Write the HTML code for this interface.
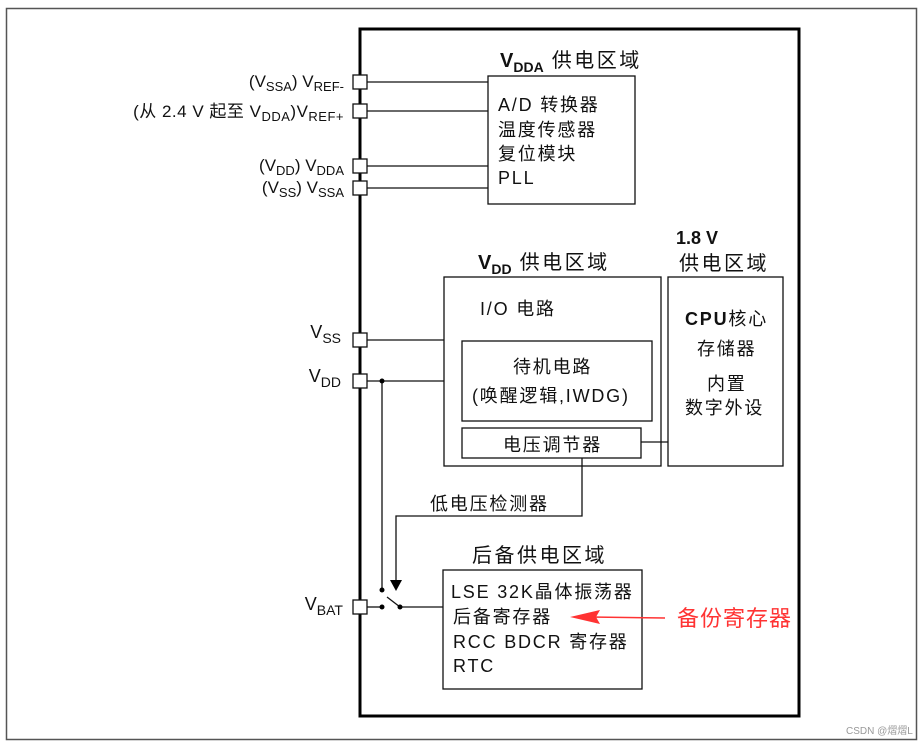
<!DOCTYPE html>
<html><head><meta charset="utf-8"><style>
body{margin:0;background:#fff}
svg{display:block}
text{font-family:"Liberation Sans","Noto Sans CJK SC",sans-serif;fill:#111}
.s{font-size:13px}
.b{font-size:18px;letter-spacing:1.8px}
.t{font-size:20px;letter-spacing:2.5px}
</style></head><body>
<svg width="923" height="745" viewBox="0 0 923 745" xmlns="http://www.w3.org/2000/svg">
<rect x="6.5" y="8.5" width="910" height="731" fill="none" stroke="#555" stroke-width="1.5"/>
<rect x="360" y="29" width="439" height="687" fill="none" stroke="#000" stroke-width="3"/>
<g fill="none" stroke="#111" stroke-width="1.3">
<rect x="488" y="76" width="147" height="128"/>
<rect x="444" y="277" width="217" height="189"/>
<rect x="462" y="341" width="190" height="80"/>
<rect x="462" y="428" width="179" height="30"/>
<rect x="668" y="277" width="115" height="189"/>
<rect x="443" y="570" width="199" height="119"/>
<line x1="367" y1="82" x2="488" y2="82"/>
<line x1="367" y1="111" x2="488" y2="111"/>
<line x1="367" y1="166" x2="488" y2="166"/>
<line x1="367" y1="188" x2="488" y2="188"/>
<line x1="367" y1="340" x2="444" y2="340"/>
<line x1="367" y1="381" x2="444" y2="381"/>
<line x1="641" y1="442" x2="668" y2="442"/>
<polyline points="582,458 582,516 396,516 396,580"/>
<line x1="382" y1="381" x2="382" y2="590"/>
<line x1="367" y1="607" x2="382" y2="607"/>
<line x1="387" y1="597" x2="400" y2="607"/>
<line x1="400" y1="607" x2="443" y2="607"/>
</g>
<g fill="#fff" stroke="#111" stroke-width="1.3">
<rect x="353" y="75" width="14" height="14"/>
<rect x="353" y="104" width="14" height="14"/>
<rect x="353" y="159" width="14" height="14"/>
<rect x="353" y="181" width="14" height="14"/>
<rect x="353" y="333" width="14" height="14"/>
<rect x="353" y="374" width="14" height="14"/>
<rect x="353" y="600" width="14" height="14"/>
</g>
<polygon points="390,580 402,580 396,591" fill="#000"/>
<g fill="#000"><circle cx="382" cy="381" r="2.5"/><circle cx="382" cy="590" r="2.5"/><circle cx="382" cy="607" r="2.5"/><circle cx="400" cy="607" r="2.5"/></g>
<line x1="665" y1="618" x2="590" y2="617" stroke="#f33" stroke-width="1.5"/>
<polygon points="570,617 600,610 596,617 600,624" fill="#f33"/>
<text x="677" y="626" font-size="22" style="fill:#f33;letter-spacing:1px">备份寄存器</text>
<text x="846" y="734" font-size="10" style="fill:#999">CSDN @熠熠L</text>
<g text-anchor="end">
<text x="344" y="87" font-size="17">(V<tspan class="s" dy="4">SSA</tspan><tspan dy="-4">)  V</tspan><tspan class="s" dy="4">REF-</tspan></text>
<text x="344" y="117" font-size="17" style="letter-spacing:0.5px">(从 2.4 V 起至 V<tspan class="s" dy="4">DDA</tspan><tspan dy="-4">)V</tspan><tspan class="s" dy="4">REF+</tspan></text>
<text x="344" y="171" font-size="17">(V<tspan class="s" dy="4">DD</tspan><tspan dy="-4">)  V</tspan><tspan class="s" dy="4">DDA</tspan></text>
<text x="344" y="193" font-size="17">(V<tspan class="s" dy="4">SS</tspan><tspan dy="-4">)  V</tspan><tspan class="s" dy="4">SSA</tspan></text>
<text x="341" y="338" font-size="18">V<tspan font-size="14" dy="5">SS</tspan></text>
<text x="341" y="382" font-size="18">V<tspan font-size="14" dy="5">DD</tspan></text>
<text x="343" y="610" font-size="18">V<tspan font-size="14" dy="5">BAT</tspan></text>
</g>
<text x="500" y="67" class="t"><tspan font-weight="bold" style="letter-spacing:0">V</tspan><tspan font-weight="bold" font-size="14" dy="5" style="letter-spacing:0">DDA</tspan><tspan dy="-5"> 供电区域</tspan></text>
<text x="478" y="269" class="t"><tspan font-weight="bold" style="letter-spacing:0">V</tspan><tspan font-weight="bold" font-size="14" dy="5" style="letter-spacing:0">DD</tspan><tspan dy="-5"> 供电区域</tspan></text>
<text x="676" y="244" font-size="18" font-weight="bold">1.8 V</text>
<text x="679" y="270" class="t">供电区域</text>
<text x="472" y="562" class="t">后备供电区域</text>
<g class="b">
<text x="498" y="111">A/D 转换器</text>
<text x="498" y="136">温度传感器</text>
<text x="498" y="160">复位模块</text>
<text x="498" y="184">PLL</text>
<text x="480" y="315">I/O 电路</text>
<text x="513" y="373">待机电路</text>
<text x="472" y="402">(唤醒逻辑,IWDG)</text>
<text x="503" y="451">电压调节器</text>
<text x="430" y="510">低电压检测器</text>
<text x="685" y="325"><tspan font-weight="bold">CPU</tspan>核心</text>
<text x="697" y="355">存储器</text>
<text x="707" y="390">内置</text>
<text x="685" y="414">数字外设</text>
<text x="451" y="598">LSE  32K晶体振荡器</text>
<text x="453" y="623">后备寄存器</text>
<text x="453" y="648">RCC BDCR 寄存器</text>
<text x="453" y="672">RTC</text>
</g>
</svg>
</body></html>
